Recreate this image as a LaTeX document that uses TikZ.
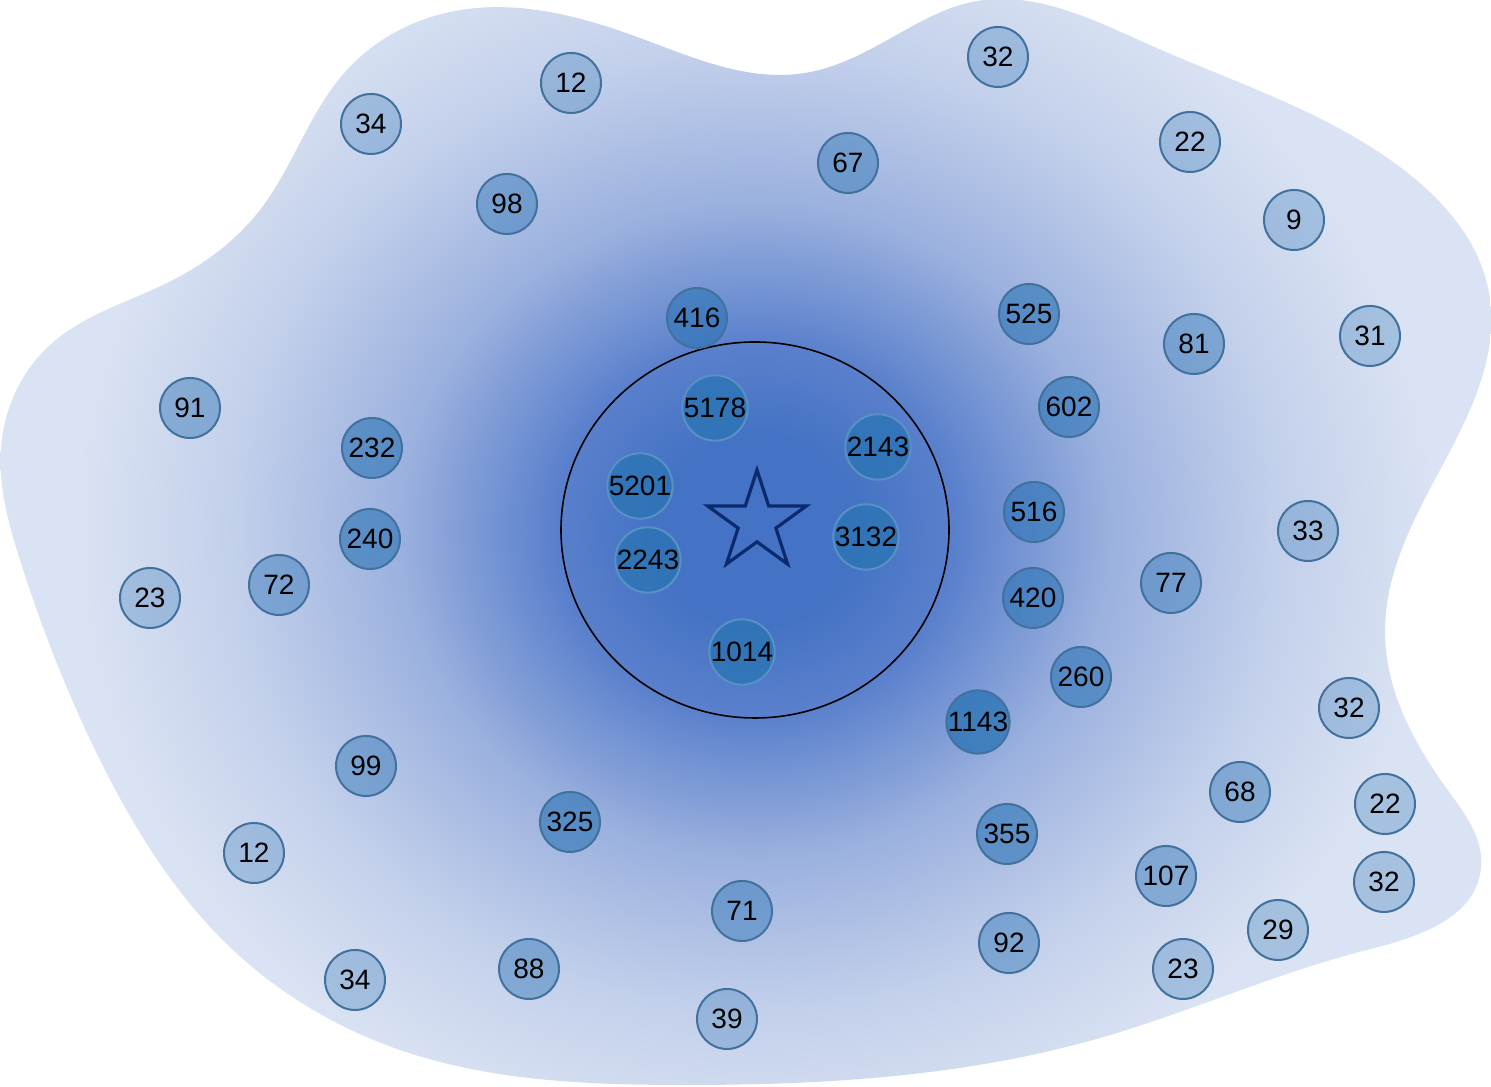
\documentclass[tikz,border=0pt]{standalone}
\usepackage{fontspec}
\setmainfont{Liberation Sans}
\usetikzlibrary{shapes.geometric, hobby}

\definecolor{blobcore}{HTML}{4472C4}
\definecolor{blobring}{HTML}{5A80CC}
\definecolor{blobmid}{HTML}{9AB0DE}
\definecolor{blobpale}{HTML}{C3D0EB}
\definecolor{blobrim}{HTML}{DAE3F3}
\definecolor{dotfill}{HTML}{2E75B6}
\definecolor{dotedge}{HTML}{41719C}
\definecolor{starblue}{HTML}{0A2A6E}

\pgfdeclareradialshading{blobglow}{\pgfpoint{0bp}{0bp}}{%
  color(0bp)=(blobcore); color(1.65bp)=(blobcore); color(3.3bp)=(blobring);
  color(5.8bp)=(blobmid); color(8.6bp)=(blobpale); color(11.2bp)=(blobrim); color(50bp)=(blobrim)}

\begin{document}
\begin{tikzpicture}[x=0.25pt, y=-0.25pt,
    dot/.style={circle, draw=dotedge, line width=0.5pt, minimum size=15pt, inner sep=0pt,
                fill=dotfill, font=\fontsize{7}{8}\selectfont},
    few/.style={dot, fill opacity=0.3, text opacity=1},
    some/.style={dot, fill opacity=0.45, text opacity=1},
    many/.style={dot, fill opacity=0.62, text opacity=1},
    core/.style={dot, draw=dotfill!80!white, fill opacity=0.88, text opacity=1}]
    \useasboundingbox (0,0) rectangle (1491,1087);

    % Shaded cloud of all counts
    \begin{scope}
        \clip plot[closed hobby] coordinates {
            (455,11) (640,38) (805,73) (900,33) (972,2) (1150,45)
            (1400,167) (1489,293) (1440,470) (1385,632) (1447,789) (1481,868)
            (1367,950) (1100,1038) (679,1085) (400,1050) (233,950) (100,760)
            (20,560) (1,448) (50,345) (167,283) (260,210) (345,72)};
        \shade[shading=blobglow] (755,530) ellipse (1520 and 1400);
    \end{scope}

    % Inner ring with the star in its centre
    \draw[line width=0.4pt] (755,530) ellipse (194 and 188);
    \node[star, star points=5, star point ratio=2.618, draw=starblue, line width=0.8pt,
          minimum size=26pt, inner sep=0pt] (hub) at (757,522) {};

    % Counts inside the ring
    \node[core] (n5178) at (715,408) {5178};
    \node[core] (n2143) at (878,447) {2143};
    \node[core] (n5201) at (640,486) {5201};
    \node[core] (n3132) at (866,537) {3132};
    \node[core] (n2243) at (648,560) {2243};
    \node[core] (n1014) at (742,652) {1014};
    \node[core, fill opacity=0.8, draw=dotedge] (n1143) at (978,722) {1143};

    % Counts around the ring
    \node[many] (n416) at (697,318) {416};
    \node[many] (n525) at (1029,314) {525};
    \node[many] (n602) at (1069,407) {602};
    \node[many] (n516) at (1034,512) {516};
    \node[many] (n420) at (1033,598) {420};
    \node[many] (n260) at (1081,677) {260};
    \node[many] (n232) at (372,448) {232};
    \node[many] (n240) at (370,539) {240};
    \node[many] (n325) at (570,822) {325};
    \node[many] (n355) at (1007,834) {355};
    \node[some] (n107) at (1166,876) {107};

    % Middle band
    \node[some] (n98) at (507,204) {98};
    \node[some] (n67) at (848,163) {67};
    \node[some] (n81) at (1194,344) {81};
    \node[some] (n91) at (190,408) {91};
    \node[some] (n72) at (279,585) {72};
    \node[some] (n77) at (1171,583) {77};
    \node[some] (n68) at (1240,792) {68};
    \node[some] (n99) at (366,766) {99};
    \node[some] (n92) at (1009,943) {92};
    \node[some] (n71) at (742,911) {71};
    \node[some] (n88) at (529,969) {88};

    % Outer rim
    \node[few] (n34a) at (371,124) {34};
    \node[few] (n12a) at (571,83) {12};
    \node[few] (n32a) at (998,57) {32};
    \node[few] (n22a) at (1190,142) {22};
    \node[few] (n9) at (1294,220) {9};
    \node[few] (n31) at (1370,336) {31};
    \node[few] (n33) at (1308,531) {33};
    \node[few] (n32b) at (1349,708) {32};
    \node[few] (n22b) at (1385,804) {22};
    \node[few] (n32c) at (1384,882) {32};
    \node[few] (n29) at (1278,930) {29};
    \node[few] (n23a) at (1183,969) {23};
    \node[few] (n39) at (727,1019) {39};
    \node[few] (n34b) at (355,980) {34};
    \node[few] (n12b) at (254,853) {12};
    \node[few] (n23b) at (150,598) {23};
\end{tikzpicture}
\end{document}
